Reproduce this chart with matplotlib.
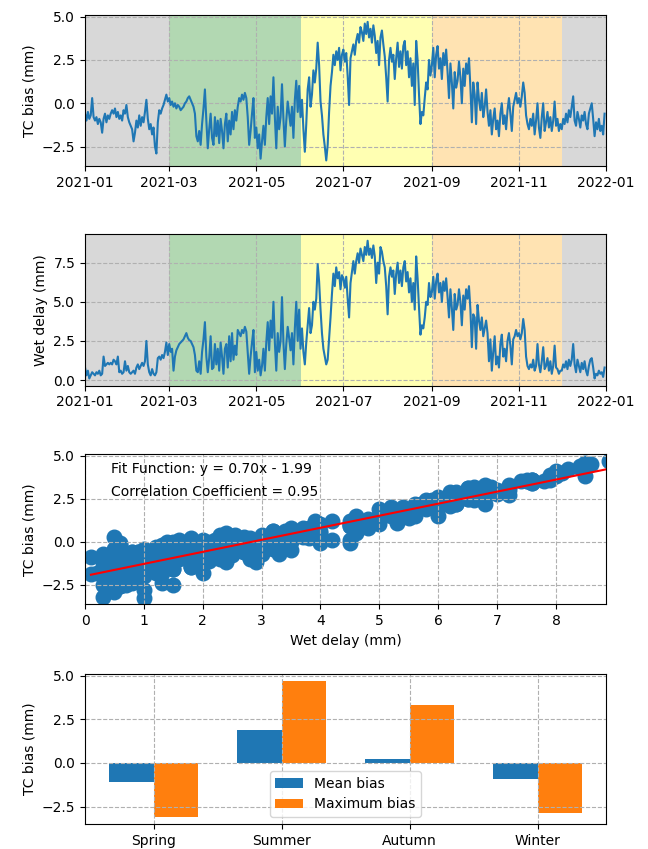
import matplotlib
matplotlib.use("Agg")
import matplotlib.pyplot as plt
from matplotlib.ticker import MultipleLocator
import matplotlib.dates as mdates
import numpy as np
import pandas as pd

# daily TC bias (mm), Jan..Dec 2021
tc_bias = [
    -0.6, -1.0, -0.5, -0.9, -0.7, 0.3, -0.8, -1.0, -0.8, -1.2, -0.9, -1.1, -1.7, -0.9, -0.6, -1.1,
    -0.7, -0.9, -0.6, -0.4, -0.6, -0.3, -0.8, -0.5, -0.9, -0.7, -1.0, -0.4, -0.6, -0.1, -0.8,
    -1.1, -1.3, -1.5, -2.2, -1.7, -1.0, -1.4, -0.7, -1.3, -0.8, -1.1, -0.5, 0.2, -0.9, -1.5, -1.2,
    -1.8, -1.4, -2.5, -2.9, -1.1, -0.4, -0.6, -0.3, -0.1, 0.2, 0.5, 0.1,
    0.3, -0.1, 0.1, -0.2, 0.0, -0.3, -0.1, -0.2, -0.4, -0.3, -0.2, 0.0, 0.1, 0.3, 0.4, 0.2,
    0.0, -0.2, -0.6, -1.9, -2.2, -1.6, -2.4, -1.2, -0.3, 0.8, -1.0, -2.6, -1.5, -0.6, -2.0,
    -2.4, -0.8, -1.9, -1.0, -2.3, -0.9, -1.6, -2.6, -1.2, -0.6, -2.2, -1.0, -1.8, -0.5, -1.5,
    -0.4, -1.0, -0.2, 0.3, 0.1, 0.5, 0.2, 0.6, 0.3, -0.8, -2.4, -1.6, -0.6, 0.3, -2.0,
    -1.4, -2.6, -1.8, -3.2, -2.2, -1.3, -2.4, -0.8, 0.3, -1.2, 0.4, -0.6, 1.5, -0.8, -2.6, -0.2,
    -1.5, -0.8, 1.1, -0.9, -2.5, -1.0, 0.1, -0.6, -1.3, -0.2, -2.0, 0.2, 1.3, -0.5, 1.0,
    -0.8, 0.2, -1.5, -2.8, -1.2, 0.8, 1.5, -0.2, 0.5, 1.9, 1.2, 2.0, 3.5, 2.2, 0.1,
    -0.7, -1.8, -2.5, -3.3, -2.4, -0.5, 1.0, 1.8, 2.8, 2.2, 3.0, 2.5, 3.2, 1.9, 2.8,
    3.1, 2.4, 2.9, 1.6, -0.1, 2.6, 3.0, 3.4, 2.8, 3.6, 4.0, 3.5, 4.4, 4.1, 3.6, 4.6,
    4.0, 4.7, 3.8, 4.3, 3.5, 4.5, 3.9, 2.9, 3.6, 2.2, 3.8, 4.2, 3.4, 2.7, 1.5,
    0.1, 2.5, 3.2, 2.4, 2.8, 1.4, 2.6, 3.5, 2.1, 3.0, 2.0, 3.3, 3.6, 2.2, 3.0, 1.5,
    2.6, 1.0, 2.3, -0.1, 3.6, 2.5, 0.5, -1.2, -0.5, -0.7, 0.3, 1.2, 0.8, 2.5, 1.6,
    2.2, 3.2, 1.5, 2.8, 3.3, 2.0, 2.6, 1.4, 2.9, 2.2, 3.1, 1.8, 0.3, 2.3, 1.2,
    -0.3, 1.8, 0.9, 1.3, 2.4, 1.5, 0.0, 2.0, 1.0, 2.3, 1.7, 2.6, 0.9, -1.1, 1.2,
    0.5, -1.2, 1.2, 0.2, -0.4, 0.6, -0.8, -0.2, 0.8, -0.5, -1.3, -0.4, -1.8, -0.9, -0.3, -1.5,
    -1.0, -1.9, -0.6, 0.0, -1.2, -0.7, -1.5, -0.4, 0.3, -0.6, -1.6, -0.2, 0.2, 0.6, 0.0,
    0.3, -0.2, 0.4, 1.2, 0.6, -0.7, -1.2, -1.5, -0.9, -1.3, -0.6, -1.8, -1.0, 0.0, -1.4,
    -2.0, -0.8, 0.0, -1.6, -1.1, -0.5, -1.4, -0.8, -1.6, -1.0, 0.1, -1.3, -0.9, -1.6, -1.2,
    -1.5, -0.9, -1.2, -0.6, -1.1, -0.4, -0.8, -0.2, 0.4, -1.0, -1.3, -0.5, -0.9, -1.4, -0.7, -1.0,
    -0.5, -1.2, -1.5, -0.6, -0.3, 0.0, -0.9, -1.9, -1.1, -1.5, -0.9, -1.6, -1.3, -1.8, -0.6,
]

# daily wet delay (mm), same days
wet_delay = [
    0.8, 0.3, 0.6, 0.1, 0.3, 0.5, 0.4, 0.3, 0.5, 0.4, 0.6, 0.3, 0.4, 1.5, 0.9, 1.0,
    1.1, 1.0, 1.1, 1.0, 1.3, 1.2, 1.0, 1.5, 0.5, 0.6, 0.4, 0.5, 1.2, 0.6, 0.9,
    0.5, 0.4, 0.5, 0.6, 0.4, 0.8, 1.0, 0.7, 0.9, 1.1, 0.9, 1.2, 2.5, 1.0, 0.5, 0.3,
    0.7, 0.4, 0.3, 0.5, 1.4, 1.5, 1.3, 1.6, 1.4, 1.8, 2.4, 1.6,
    2.3, 1.8, 2.0, 0.6, 1.5, 1.9, 2.1, 2.3, 2.4, 2.5, 2.6, 2.8, 3.0, 2.7, 2.55, 2.5,
    2.3, 2.1, 1.6, 0.6, 0.5, 1.2, 0.4, 1.8, 2.6, 3.7, 1.5, 0.5, 1.4, 2.8, 0.7,
    0.8, 2.3, 1.0, 2.0, 0.6, 2.4, 1.5, 0.4, 2.0, 2.3, 0.8, 2.8, 1.2, 3.0, 1.3,
    2.2, 1.6, 3.2, 3.0, 2.8, 3.2, 3.0, 3.4, 3.1, 1.8, 0.4, 1.5, 2.4, 3.2, 0.5,
    1.8, 0.6, 1.3, 0.3, 0.9, 2.0, 0.6, 2.4, 3.7, 1.9, 3.8, 2.7, 5.0, 2.4, 0.6, 3.0,
    1.8, 2.5, 5.3, 2.4, 0.7, 2.3, 3.4, 2.7, 1.9, 3.0, 1.0, 3.3, 5.0, 2.5, 4.5,
    2.0, 3.3, 1.8, 1.0, 2.4, 3.5, 4.6, 3.0, 3.5, 5.0, 4.5, 5.2, 7.4, 6.3, 4.5,
    3.0, 2.0, 1.5, 1.0, 1.3, 2.6, 4.0, 5.5, 6.8, 6.0, 7.2, 6.5, 6.9, 5.8, 6.7,
    6.5, 5.9, 6.6, 5.2, 4.0, 6.2, 6.9, 7.6, 6.8, 7.6, 8.1, 7.5, 8.4, 8.0, 7.6, 8.5,
    8.0, 8.9, 8.0, 8.4, 7.8, 8.6, 7.9, 6.2, 7.5, 6.8, 8.5, 8.2, 7.6, 7.2, 6.0,
    4.2, 6.6, 7.2, 6.6, 7.0, 5.5, 6.8, 7.5, 6.2, 7.0, 6.0, 7.2, 7.6, 6.3, 6.9, 5.6,
    6.5, 5.0, 6.2, 4.5, 7.9, 6.5, 4.6, 2.9, 3.5, 3.3, 4.0, 5.0, 4.8, 6.2, 5.3,
    5.6, 6.6, 5.2, 6.3, 6.8, 5.6, 6.2, 5.0, 6.3, 5.7, 6.5, 5.3, 4.0, 5.8, 4.6,
    3.2, 5.5, 4.5, 4.8, 5.8, 5.0, 3.5, 5.4, 4.5, 5.8, 5.2, 6.0, 4.5, 2.1, 4.2,
    4.0, 2.0, 4.8, 3.8, 3.2, 4.0, 2.8, 3.3, 3.8, 3.0, 1.2, 2.6, 0.6, 1.8, 2.8, 1.0,
    1.5, 0.8, 2.3, 2.9, 1.5, 2.0, 1.2, 2.5, 3.0, 2.2, 1.0, 2.6, 2.8, 3.2, 2.8,
    3.0, 2.6, 3.0, 3.9, 3.2, 1.5, 0.9, 0.7, 1.0, 0.8, 1.3, 0.6, 0.9, 2.3, 1.0,
    0.5, 1.2, 2.1, 0.7, 0.9, 1.4, 0.6, 1.2, 0.4, 0.9, 2.2, 0.8, 0.7, 0.4, 0.6,
    0.6, 1.0, 0.8, 1.2, 0.7, 1.3, 0.9, 1.3, 2.3, 1.0, 0.5, 1.3, 0.9, 0.5, 1.1, 0.7,
    1.2, 0.6, 0.3, 0.9, 1.3, 1.4, 0.8, 0.1, 0.4, 0.3, 0.6, 0.4, 0.5, 0.2, 0.8,
]

# linear fit reported on the scatter panel
fit_slope = 0.70
fit_intercept = -1.99
corr_coef = 0.95

# seasonal statistics
seasons = ["Spring", "Summer", "Autumn", "Winter"]
mean_bias = [-1.1, 1.9, 0.2, -0.9]
max_bias = [-3.1, 4.7, 3.3, -2.85]

# background shading: (start, end, colour)
season_spans = [
    ("2021-01-01", "2021-03-01", "gray"),
    ("2021-03-01", "2021-06-01", "green"),
    ("2021-06-01", "2021-09-01", "yellow"),
    ("2021-09-01", "2021-12-01", "orange"),
    ("2021-12-01", "2022-01-01", "gray"),
]

dates = pd.date_range("2021-01-01", periods=len(tc_bias), freq="D")
tc = np.array(tc_bias)
wd = np.array(wet_delay)


def shade_seasons(ax):
    for start, end, color in season_spans:
        ax.axvspan(pd.Timestamp(start), pd.Timestamp(end), color=color, alpha=0.3, lw=0)
    ax.set_xlim(pd.Timestamp("2021-01-01"), pd.Timestamp("2022-01-01"))
    ax.xaxis.set_major_locator(mdates.MonthLocator(bymonth=[1, 3, 5, 7, 9, 11]))
    ax.xaxis.set_major_formatter(mdates.DateFormatter("%Y-%m"))
    ax.yaxis.set_major_locator(MultipleLocator(2.5))
    ax.grid(True, linestyle="--")


fig = plt.figure(figsize=(6.48, 8.49), dpi=100)
left, width = 0.1312, 0.804
ax1 = fig.add_axes([left, 0.8039, width, 0.1779])
ax2 = fig.add_axes([left, 0.5459, width, 0.1779])
ax3 = fig.add_axes([left, 0.2880, width, 0.1767])
ax4 = fig.add_axes([left, 0.0295, width, 0.1767])

# TC bias time series
shade_seasons(ax1)
ax1.plot(dates, tc, color="C0")
ax1.set_ylim(-3.65, 5.07)
ax1.set_ylabel("TC bias (mm)")

# wet delay time series
shade_seasons(ax2)
ax2.plot(dates, wd, color="C0")
ax2.set_ylim(-0.35, 9.3)
ax2.set_ylabel("Wet delay (mm)")

# scatter with fitted line
ax3.scatter(wd, tc, s=110, color="C0")
xfit = np.array([wd.min(), wd.max()])
ax3.plot(xfit, fit_slope * xfit + fit_intercept, color="red")
ax3.text(0.05, 0.9, f"Fit Function: y = {fit_slope:.2f}x - {abs(fit_intercept):.2f}",
         transform=ax3.transAxes, va="center")
ax3.text(0.05, 0.75, f"Correlation Coefficient = {corr_coef:.2f}",
         transform=ax3.transAxes, va="center")
ax3.set_xlim(0, wd.max() - 0.05)
ax3.set_ylim(-3.65, 5.07)
ax3.yaxis.set_major_locator(MultipleLocator(2.5))
ax3.set_xlabel("Wet delay (mm)")
ax3.set_ylabel("TC bias (mm)")
ax3.grid(True, linestyle="--")

# seasonal mean / max bias
x = np.arange(len(seasons))
bar_w = 0.35
ax4.bar(x - bar_w / 2, mean_bias, bar_w, label="Mean bias")
ax4.bar(x + bar_w / 2, max_bias, bar_w, label="Maximum bias")
ax4.set_xticks(x)
ax4.set_xticklabels(seasons)
ax4.yaxis.set_major_locator(MultipleLocator(2.5))
ax4.set_ylabel("TC bias (mm)")
ax4.grid(True, linestyle="--")
ax4.legend(loc="lower center")

fig.savefig("out.png", dpi=100)
